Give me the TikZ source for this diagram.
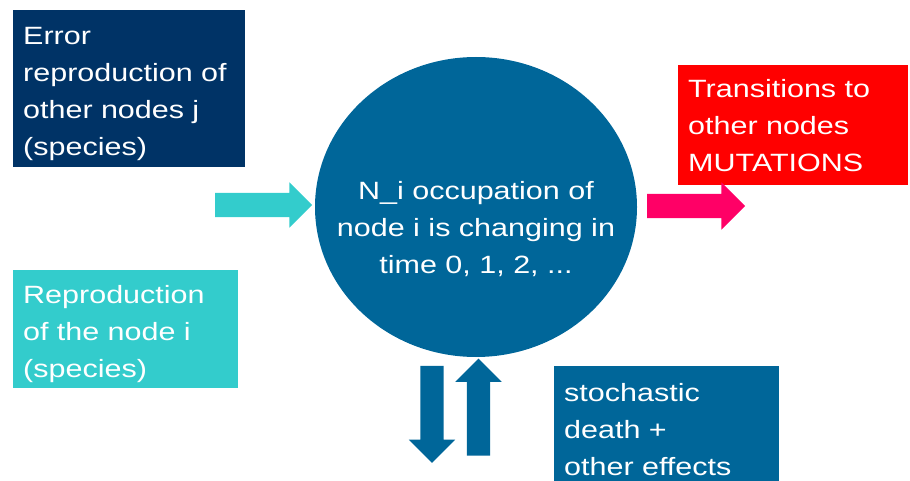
\documentclass[tikz,border=0pt]{standalone}
\usepackage{fontspec}
\setmainfont[FakeStretch=1.22]{Liberation Sans}
\usetikzlibrary{positioning, shapes.geometric, shapes.arrows}
\definecolor{NodeNavy}{RGB}{0, 51, 102}
\definecolor{NodeTeal}{RGB}{51, 204, 204}
\definecolor{NodeBlue}{RGB}{0, 102, 153}
\definecolor{MutRed}{RGB}{255, 0, 0}
\definecolor{MutPink}{RGB}{255, 0, 102}

\begin{document}
\begin{tikzpicture}[x=1pt, y=-1pt,
        infobox/.style={anchor=north west, text=white, align=left, inner xsep=10pt, inner ysep=0pt, font=\fontsize{25}{37}\selectfont},
        blockarrow/.style={single arrow, inner xsep=0pt, inner ysep=12pt, single arrow head extend=10.5pt, minimum height=97pt}]
        \useasboundingbox (0,0) rectangle (910,481);

        \node[infobox, fill=NodeNavy, minimum width=232pt, minimum height=157pt, text width=212pt] (errrep) at (13,10) {\rule{0pt}{28pt}Error\\reproduction of\\other nodes j\\(species)};
        \node[infobox, fill=NodeTeal, minimum width=225pt, minimum height=118pt, text width=205pt] (rep) at (13,270) {\rule{0pt}{28pt}Reproduction\\of the node i\\(species)};
        \node[infobox, fill=MutRed, minimum width=230pt, minimum height=120pt, text width=210pt] (trans) at (678,65) {Transitions to\\other nodes\\MUTATIONS};
        \node[infobox, fill=NodeBlue, minimum width=225pt, minimum height=115pt, text width=205pt] (death) at (554,366) {\rule{0pt}{30pt}stochastic\\death +\\other effects};

        \node[ellipse, fill=NodeBlue, minimum width=322pt, minimum height=300pt, inner sep=0pt] (occ) at (476,207) {};
        \node[text=white, align=center, font=\fontsize{25}{37}\selectfont] (occtext) at (476,229) {N\_i occupation of\\node i is changing in\\time 0, 1, 2, ...};

        \node[blockarrow, fill=NodeTeal] (inarrow) at (257.5,205) {};
        \node[blockarrow, fill=MutPink, minimum height=98pt, single arrow head extend=11.5pt] (outarrow) at (690,206) {};
        \node[blockarrow, fill=NodeBlue, rotate=-90, inner ysep=11.5pt, single arrow head extend=11.5pt] (downarrow) at (432,408.5) {};
        \node[blockarrow, fill=NodeBlue, rotate=90, inner ysep=11.5pt, single arrow head extend=11.5pt] (uparrow) at (478.5,413) {};
    \end{tikzpicture}
\end{document}
